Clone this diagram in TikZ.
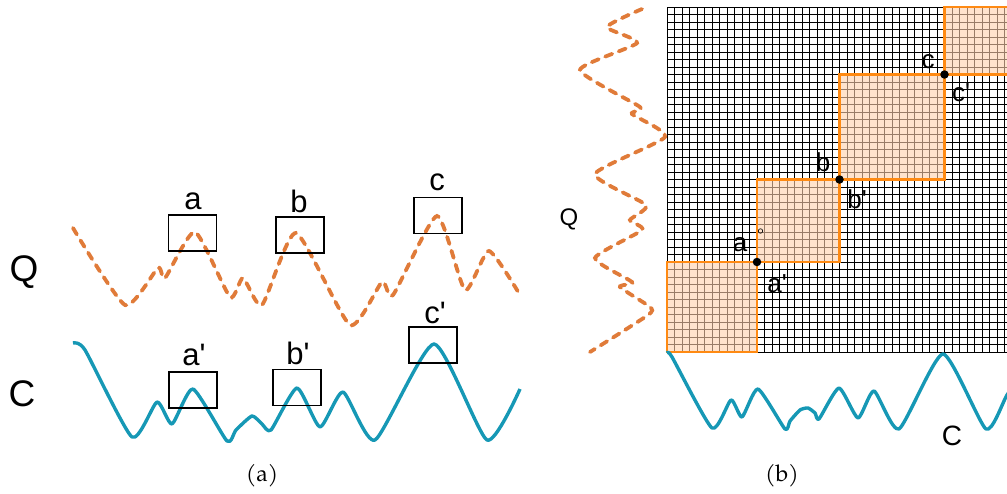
\documentclass[tikz,border=0pt]{standalone}
\usepackage{fontspec}
\setmainfont{TeX Gyre Pagella}
\setsansfont{Liberation Sans}[Ligatures=TeXOff]
\definecolor{qorange}{RGB}{224,123,57}
\definecolor{cteal}{RGB}{22,152,181}
\definecolor{pathorange}{RGB}{255,138,18}
\definecolor{peach}{RGB}{255,208,172}

\begin{document}
\begin{tikzpicture}
[
	x=1pt,y=-1pt,
	qcurve/.style={qorange,line width=3.8pt,line cap=round,dash pattern=on 7.5pt off 7pt},
	ccurve/.style={cteal,line width=3.4pt,line join=round},
	winbox/.style={draw,line width=1.2pt,rectangle,inner sep=0pt,minimum width=48pt,minimum height=36pt},
	lbl/.style={inner sep=0pt,font=\sffamily\fontsize{31}{34}\selectfont},
	rlbl/.style={inner sep=0pt,font=\sffamily\fontsize{26}{28}\selectfont},
	seqname/.style={inner sep=0pt,font=\sffamily\fontsize{37}{40}\selectfont},
	caption/.style={inner sep=0pt,font=\fontsize{23}{25}\selectfont},
	pathbox/.style={draw=pathorange,line width=2.4pt,fill=peach,fill opacity=0.6},
	matchpt/.style={circle,fill,inner sep=0pt,minimum size=8.5pt}
]
\useasboundingbox (0,0) rectangle (1007,493);

	% (a) two series with matching windows
	\node[seqname] at (24,272) (qname) {Q};
	\node[seqname] at (22,394) (cname) {C};

	\draw[qcurve] plot[smooth,tension=0.35] coordinates {(73,228) (125,305) (158,268) (165,278) (195,232) (230,297) (243,278) (262,305) (296,233) (350,325) (382,282) (393,295) (437,216) (465,290) (489,251) (520,295)};
	\draw[ccurve] plot[smooth,tension=0.35] coordinates {(73,343) (85,350) (132,437) (157,402) (172,424) (193,389) (227,441) (236,430) (252,416) (262,424) (271,430) (297,388) (320,427) (343,392) (375,440) (434,344) (487,440) (520,389)};

	\node[winbox] at (192.5,233) (wa) {};
	\node[winbox] at (300,235) (wb) {};
	\node[winbox] at (438,215.5) (wc) {};
	\node[winbox] at (193,390) (wa2) {};
	\node[winbox] at (297,387.5) (wb2) {};
	\node[winbox] at (433,345) (wc2) {};

	\node[lbl] at (193,201) (la) {a};
	\node[lbl] at (299,201) (lb) {b};
	\node[lbl] at (437,182) (lc) {c};
	\node[lbl] at (194,355) (la2) {a'};
	\node[lbl] at (298,353) (lb2) {b'};
	\node[lbl] at (435,313) (lc2) {c'};

	\node[caption] at (262,476) (capa) {(a)};

	% (b) cost matrix and warping path
	\foreach \i in {0,...,46}
	{
		\draw[line width=0.9pt] (667+7.5*\i,7) -- (667+7.5*\i,352);
		\draw[line width=0.9pt] (667,352-7.5*\i) -- (1012,352-7.5*\i);
	}

	\draw[pathbox] (667,352) rectangle (757,262);
	\draw[pathbox] (757,262) rectangle (839.5,179.5);
	\draw[pathbox] (839.5,179.5) rectangle (944.5,74.5);
	\draw[pathbox] (944.5,74.5) rectangle (1012,7);

	\node[matchpt] at (757,262) (pa) {};
	\node[matchpt] at (839.5,179.5) (pb) {};
	\node[matchpt] at (944.5,74.5) (pc) {};
	\node[circle,draw,line width=0.6pt,inner sep=0pt,minimum size=4.5pt] at (760.5,231) (tick) {};

	\node[rlbl] at (740,245) (ra) {a};
	\node[rlbl] at (777,284) (ra2) {a'};
	\node[rlbl] at (823,162) (rb) {b};
	\node[rlbl] at (857,199) (rb2) {b'};
	\node[rlbl] at (928,62) (rc) {c};
	\node[rlbl] at (961,93) (rc2) {c'};

	\draw[qcurve] plot[smooth,tension=0.35] coordinates {(642,9) (607,27) (637,43) (580,70) (640,107) (632,114) (665,137) (595,174) (646,205) (630,220) (642,230) (595,258) (632,282) (620,287) (650,307) (648,315) (590,352)};
	\draw[ccurve] plot[smooth,tension=0.35] coordinates {(667,353) (672,357) (712,428) (731,400) (742,417) (758,389) (785,429) (790,421) (800,410) (808,408) (815,413) (819,419) (839,388) (858,418) (874,391) (899,429) (943,354) (986,429) (1007,395) (1030,360)};

	\node[inner sep=0pt,font=\sffamily\fontsize{24}{26}\selectfont] at (569,219) (rq) {Q};
	\node[inner sep=0pt,font=\sffamily\fontsize{28}{30}\selectfont] at (952,436) (rcn) {C};

	\node[caption] at (782,476) (capb) {(b)};

\end{tikzpicture}
\end{document}
